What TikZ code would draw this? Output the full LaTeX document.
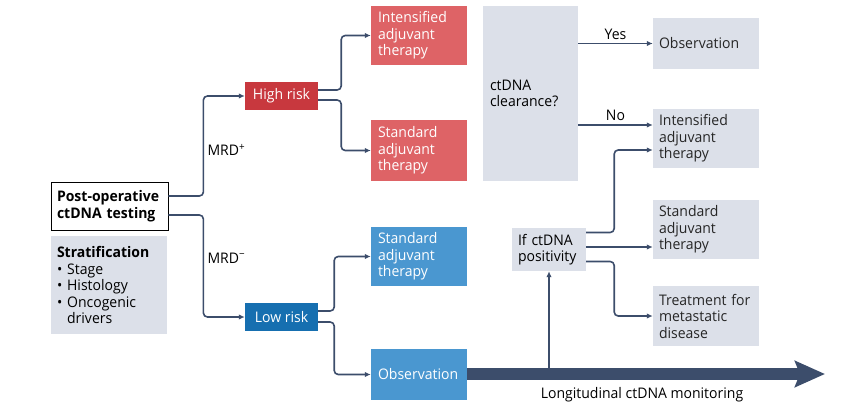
\documentclass[tikz,border=0pt]{standalone}
\usepackage{fontspec}
\setmainfont{Open Sans}[FakeStretch=0.96]
\usetikzlibrary{arrows.meta,calc,positioning}
\definecolor{linecol}{RGB}{60,77,107}
\definecolor{greyfill}{RGB}{220,224,233}
\definecolor{reddark}{RGB}{200,56,62}
\definecolor{redlight}{RGB}{222,99,102}
\definecolor{bluedark}{RGB}{22,111,176}
\definecolor{bluelight}{RGB}{74,151,208}
\tikzset{
 box/.style={inner xsep=7pt,inner ysep=0pt,align=left,anchor=center},
 redbox/.style={box,fill=redlight,text=white,minimum width=96pt,text width=82pt},
 bluebox/.style={box,fill=bluelight,text=white,minimum width=96pt,text width=82pt},
 greybox/.style={box,fill=greyfill,text=black!85,minimum width=106pt,text width=94pt,inner xsep=6pt},
 riskbox/.style={box,text=white,minimum width=73pt,minimum height=28pt,align=center},
 conn/.style={draw=linecol,line width=1.6pt,rounded corners=4pt,-{Latex[length=6pt,width=5.5pt]}},
}
\begin{document}
\begin{tikzpicture}[x=1pt,y=-1pt,font=\fontsize{14.6}{16.5}\selectfont]
\useasboundingbox (0,0) rectangle (865,412);
% left column
\node[box,draw=black,line width=.8pt,fill=white,minimum width=117pt,minimum height=48pt,text width=105pt,inner xsep=6pt,font=\fontsize{14.6}{16.5}\selectfont\bfseries] (post) at (109.5,206) {Post-operative\\ctDNA testing};
\node[box,fill=greyfill,minimum width=116pt,minimum height=98pt,text width=104pt,inner xsep=6pt] (strat) at (109,285)
 {\textbf{Stratification}\\\textbullet\ Stage\\\textbullet\ Histology\\\textbullet\ Oncogenic\\\phantom{\textbullet\ }drivers};
% risk groups
\node[riskbox,fill=reddark] (hi) at (281.5,96) {High risk};
\node[riskbox,fill=bluedark] (lo) at (281.5,317) {Low risk};
% adjuvant options
\node[redbox,minimum height=59pt] (intR) at (419,35.5) {Intensified\\adjuvant\\therapy};
\node[redbox,minimum height=61pt] (stdR) at (419,150.5) {Standard\\adjuvant\\therapy};
\node[bluebox,minimum height=59pt] (stdB) at (419,256.5) {Standard\\adjuvant\\therapy};
\node[bluebox,minimum height=51pt] (obsB) at (419,374.5) {Observation};
% decisions
\node[box,fill=greyfill,minimum width=95pt,minimum height=175pt,text width=81pt] (clear) at (530.5,93.5) {ctDNA\\clearance?};
\node[box,fill=greyfill,minimum width=74pt,minimum height=43pt,text width=62pt,inner xsep=6pt] (pos) at (549,249.5) {If ctDNA\\positivity};
% outcomes
\node[greybox,minimum height=51pt] (obsG) at (706,43.5) {Observation};
\node[greybox,minimum height=59pt] (intG) at (706,138.5) {Intensified\\adjuvant\\therapy};
\node[greybox,minimum height=59pt] (stdG) at (706,229.5) {Standard\\adjuvant\\therapy};
\node[greybox,minimum height=60pt] (trtG) at (706,316) {Treatment for\\metastatic\\disease};
% monitoring arrow
\coordinate (tip) at (825,374);
\coordinate (mon) at (549,374);
\draw[linecol,line width=12pt,-{Stealth[length=30pt,width=26pt,inset=5pt]}] (obsB.east |- tip) -- (tip);
\node (montext) at (642,395) {Longitudinal ctDNA monitoring};
\draw[conn] (mon) -- (pos.south);
% connectors
\draw[conn] ([yshift=10pt]post.east) -- ++(35,0) |- (hi.west) node[pos=.23,right] {MRD\textsuperscript{+}};
\draw[conn] ([yshift=-9pt]post.east) -- ++(35,0) |- (lo.west) node[pos=.21,right] {MRD\textsuperscript{−}};
\draw[conn] ([yshift=6pt]hi.east) -- ++(23,0) |- (intR.west);
\draw[conn] ([yshift=-4pt]hi.east) -- ++(23,0) |- (stdR.west);
\draw[conn] ([yshift=6pt]lo.east) -- ++(16,0) |- (stdB.west);
\draw[conn] ([yshift=-5pt]lo.east) -- ++(16,0) |- (obsB.west);
\coordinate (noin) at ([yshift=13.5pt]intG.west);
\coordinate (stdin) at ([yshift=-17.5pt]stdG.west);
\coordinate (intin) at ([yshift=-11.5pt]intG.west);
\draw[conn] (clear.east |- obsG.west) -- (obsG.west) node[midway,above] {Yes};
\draw[conn] (clear.east |- noin) -- (noin) node[midway,above] {No};
\draw[conn] ([yshift=17pt]pos.east) -- ++(28,0) |- (intin);
\draw[conn] (pos.east |- stdin) -- (stdin);
\draw[conn] ([yshift=-12pt]pos.east) -- ++(28,0) |- (trtG.west);
\end{tikzpicture}
\end{document}
